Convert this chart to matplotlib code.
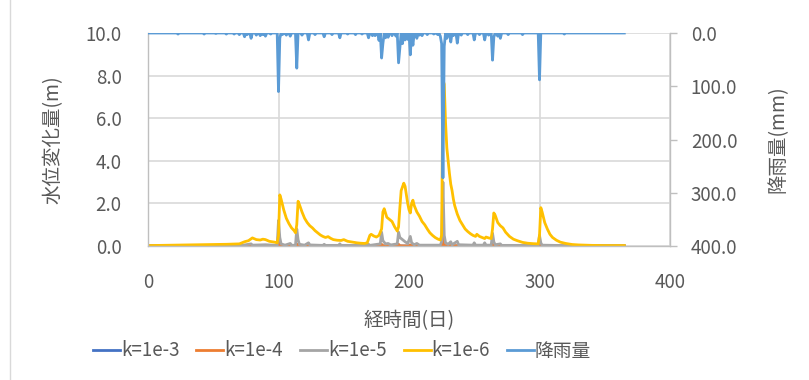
import numpy as np
import matplotlib
matplotlib.use("Agg")
import matplotlib.pyplot as plt
from matplotlib.lines import Line2D

plt.rcParams['font.family'] = ['Noto Sans CJK JP', 'DejaVu Sans']

# water level change (m) for each permeability, (day, value) points
k3_day = [0, 225, 226, 227, 365]
k3_val = [0, 0, 0.08, 0, 0]

k4_day = [0, 99, 100, 101, 113, 114, 115, 178, 179, 180, 191, 192, 193, 200, 201, 202,
          225, 226, 227, 263, 264, 265, 299, 300, 301, 365]
k4_val = [0, 0, 0.2, 0.02, 0, 0.1, 0.01, 0, 0.08, 0.01, 0, 0.08, 0.01, 0, 0.05, 0,
          0, 0.4, 0.02, 0, 0.08, 0, 0, 0.12, 0, 0]

k5_day = [0, 70, 74, 79, 80, 90, 99, 100, 101, 102, 105, 109, 110, 113, 114, 115, 116,
          120, 123, 124, 134, 135, 136, 146, 147, 148, 168, 169, 170, 178, 179, 180,
          182, 184, 186, 191, 192, 193, 195, 197, 199, 201, 202, 204, 206, 208, 224,
          225, 226, 227, 228, 230, 232, 233, 237, 238, 249, 250, 251, 257, 258, 259,
          263, 264, 265, 266, 270, 271, 299, 300, 301, 302, 320, 365]
k5_val = [0.01, 0.02, 0.05, 0.1, 0.04, 0.06, 0.03, 1.2, 0.4, 0.1, 0.04, 0.12, 0.04,
          0.03, 0.8, 0.3, 0.08, 0.04, 0.15, 0.05, 0.03, 0.08, 0.03, 0.03, 0.1, 0.03,
          0.03, 0.08, 0.03, 0.1, 0.65, 0.25, 0.1, 0.12, 0.05, 0.1, 0.65, 0.4, 0.3, 0.2,
          0.12, 0.45, 0.15, 0.06, 0.12, 0.04, 0.04, 0.2, 3.0, 0.5, 0.15, 0.08, 0.2,
          0.06, 0.22, 0.06, 0.04, 0.15, 0.04, 0.04, 0.15, 0.04, 0.04, 0.6, 0.2, 0.06,
          0.1, 0.03, 0.03, 0.5, 0.15, 0.04, 0.02, 0.01]

k6_day = [0, 10, 20, 30, 40, 50, 60, 70, 74, 77, 80, 83, 86, 88, 90, 93, 97, 99,
          100, 101, 102, 104, 106, 108, 110, 112, 113, 114, 115, 116, 118, 120, 122,
          124, 126, 128, 130, 132, 134, 136, 138, 140, 142, 145, 148, 150, 153, 157,
          160, 163, 166, 168, 170, 171, 173, 175, 177, 179, 180, 181, 183, 185, 187,
          189, 191, 192, 193, 194, 196, 197, 199, 200, 201, 202, 203, 204, 206, 208,
          210, 212, 214, 216, 218, 220, 222, 224, 225, 226, 227, 228, 229, 230, 231,
          232, 233, 234, 235, 237, 239, 241, 243, 245, 247, 249, 251, 252, 254, 256,
          258, 259, 261, 263, 264, 265, 266, 268, 270, 272, 274, 277, 280, 283, 287,
          291, 295, 299, 300, 301, 302, 304, 306, 308, 310, 313, 316, 320, 325, 330,
          340, 350, 365]
k6_val = [0.02, 0.03, 0.04, 0.05, 0.06, 0.07, 0.08, 0.1, 0.2, 0.25, 0.38, 0.3, 0.28,
          0.32, 0.3, 0.22, 0.18, 0.15, 0.5, 2.4, 2.2, 1.7, 1.3, 1.05, 0.85, 0.72, 0.62,
          1.0, 2.1, 1.95, 1.6, 1.3, 1.1, 0.95, 0.85, 0.72, 0.62, 0.52, 0.45, 0.4, 0.44,
          0.36, 0.3, 0.27, 0.26, 0.3, 0.22, 0.18, 0.15, 0.13, 0.12, 0.15, 0.5, 0.55,
          0.47, 0.42, 0.5, 0.8, 1.6, 1.75, 1.35, 1.25, 1.15, 0.9, 0.7, 0.9, 1.8, 2.6,
          2.95, 2.8, 2.0, 1.7, 1.55, 2.0, 2.15, 1.9, 1.6, 1.4, 1.15, 1.0, 0.8, 0.62,
          0.5, 0.4, 0.33, 0.28, 0.5, 7.8, 7.6, 5.8, 4.6, 4.0, 3.4, 2.9, 2.6, 2.2, 1.9,
          1.5, 1.2, 1.0, 0.8, 0.68, 0.58, 0.5, 0.45, 0.55, 0.45, 0.4, 0.35, 0.42, 0.38,
          0.35, 0.8, 1.55, 1.45, 1.1, 0.95, 0.85, 0.65, 0.45, 0.32, 0.25, 0.17, 0.13,
          0.11, 0.1, 0.5, 1.8, 1.6, 1.1, 0.8, 0.55, 0.4, 0.27, 0.18, 0.12, 0.07, 0.05,
          0.03, 0.02, 0.02]

# daily rainfall (mm), days without rain are zero
rain_day = [23, 43, 52, 60, 66, 70, 74, 76, 79, 83, 86, 88, 90, 94, 100, 101, 103, 106,
            109, 114, 118, 123, 128, 135, 141, 147, 153, 159, 164, 169, 172, 174, 177,
            179, 180, 182, 184, 187, 190, 192, 193, 195, 197, 199, 201, 203, 206, 208,
            210, 214, 219, 222, 224, 225, 226, 227, 229, 232, 234, 237, 240, 245, 250,
            254, 258, 261, 264, 265, 268, 270, 276, 287, 300, 319]
rain_mm = [2, 2, 1, 2, 2, 3, 7, 3, 10, 4, 5, 3, 6, 2, 110, 10, 3, 4, 6, 66, 4, 13, 3,
           7, 3, 9, 2, 3, 2, 9, 5, 5, 14, 47, 20, 9, 8, 5, 6, 56, 28, 20, 13, 12, 41,
           23, 10, 4, 5, 3, 2, 3, 6, 20, 272, 25, 10, 17, 5, 19, 4, 3, 13, 3, 13, 4, 51,
           8, 6, 10, 3, 3, 88, 2]

days = np.arange(0, 366)
rain = np.zeros(len(days))
rain[rain_day] = rain_mm

c_text = '#595959'
c_grid = '#D9D9D9'
c_axis = '#BFBFBF'

fig = plt.figure(figsize=(8.09, 3.80), dpi=100)
ax = fig.add_axes([148 / 809, 1 - 246 / 380, 522 / 809, 213 / 380])
ax2 = ax.twinx()

lw = 2.0
ax.plot(k3_day, k3_val, color='#4472C4', lw=lw)
ax.plot(k4_day, k4_val, color='#ED7D31', lw=lw)
ax.plot(k5_day, k5_val, color='#A5A5A5', lw=lw)
ax.plot(k6_day, k6_val, color='#FFC000', lw=lw)
ax2.plot(days, rain, color='#5B9BD5', lw=lw)

ax.set_xlim(0, 400)
ax.set_ylim(0, 10)
ax2.set_ylim(400, 0)
ax.set_xticks([0, 100, 200, 300, 400])
ax.set_yticks([0, 2, 4, 6, 8, 10])
ax.set_yticklabels([f'{v:.1f}' for v in [0, 2, 4, 6, 8, 10]])
ax2.set_yticks([0, 100, 200, 300, 400])
ax2.set_yticklabels([f'{v:.1f}' for v in [0, 100, 200, 300, 400]])

ax.grid(True, color=c_grid, lw=1.2)
ax.set_axisbelow(True)

for a in (ax, ax2):
    for s in a.spines.values():
        s.set_visible(False)
for s in (ax.spines['left'], ax.spines['bottom'], ax2.spines['right']):
    s.set_visible(True)
    s.set_color(c_axis)
    s.set_linewidth(1.0)

fs = 13.5
ax.tick_params(axis='x', length=0, pad=19, labelsize=fs, labelcolor=c_text)
ax.tick_params(axis='y', length=0, pad=19, labelsize=fs, labelcolor=c_text)
ax2.tick_params(axis='y', length=5, width=1, color=c_axis, pad=10,
                labelsize=fs, labelcolor=c_text)

ax.set_xlabel('経時間(日)', fontsize=14, color=c_text, labelpad=12)
ax.set_ylabel('水位変化量(m)', fontsize=14, color=c_text, labelpad=16)
ax2.set_ylabel('降雨量(mm)', fontsize=14, color=c_text, rotation=90, labelpad=22)

colors = ['#4472C4', '#ED7D31', '#A5A5A5', '#FFC000', '#5B9BD5']
labels = ['k=1e-3', 'k=1e-4', 'k=1e-5', 'k=1e-6', '降雨量']
handles = [Line2D([], [], color=c, lw=lw) for c in colors]
fig.legend(handles, labels, loc='center', bbox_to_anchor=(342 / 809, 1 - 351 / 380),
           ncol=5, frameon=False, fontsize=fs, handlelength=1.45,
           handletextpad=0.05, columnspacing=0.9, labelcolor=c_text,
           borderpad=0)

# chart area border
fig.add_artist(Line2D([10 / 809, 10 / 809], [0, 1], transform=fig.transFigure,
                      color=c_grid, lw=1))

fig.savefig('out.png', dpi=100)
